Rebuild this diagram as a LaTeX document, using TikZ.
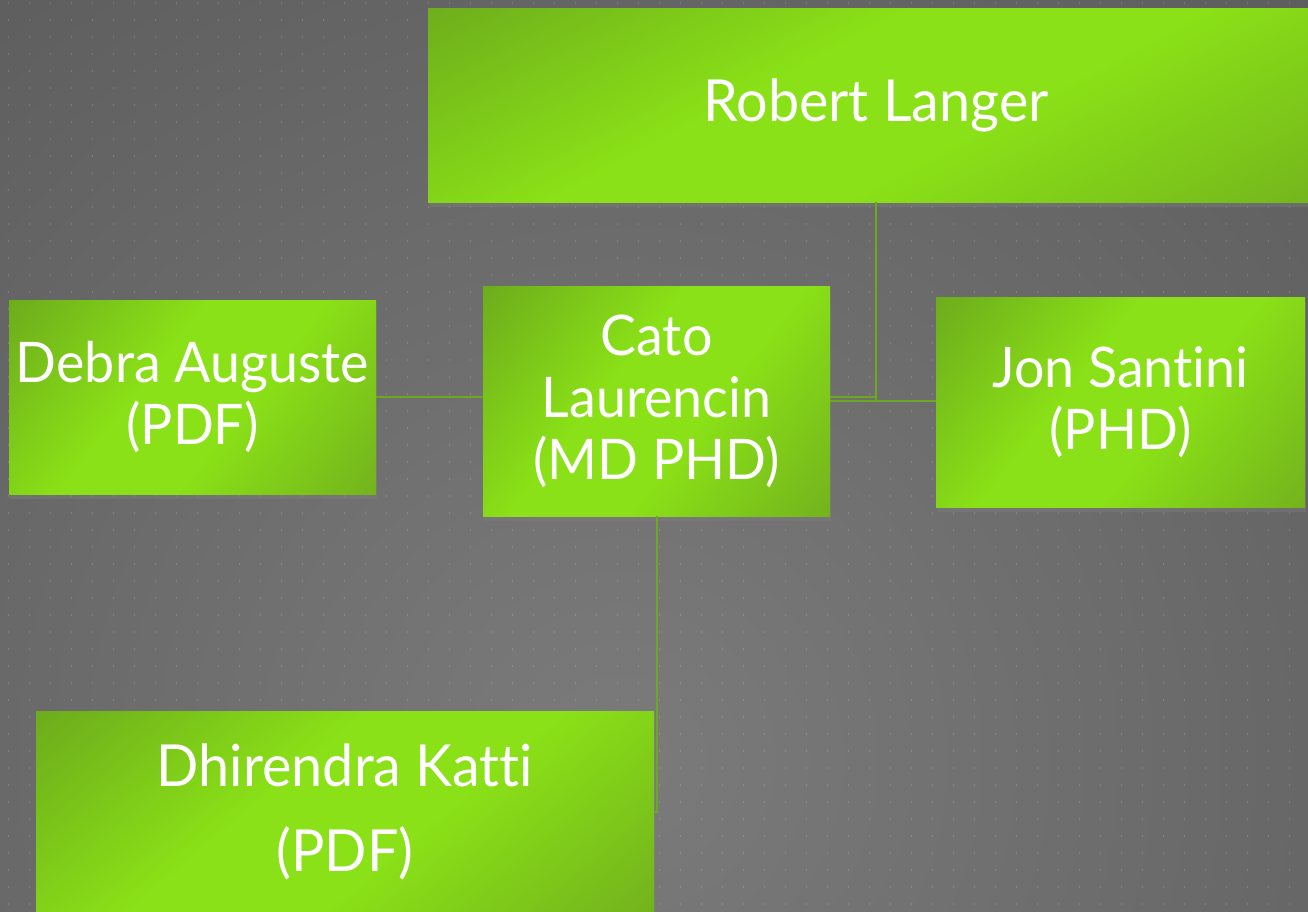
\documentclass[tikz,border=0pt]{standalone}
\usepackage{fontspec}
\setmainfont{Lato}[Ligatures={NoCommon}, FakeStretch=0.96]
\usetikzlibrary{shadows}
\definecolor{bgin}{HTML}{7B7B7B}
\definecolor{bgout}{HTML}{3B3B3B}
\definecolor{gdark}{HTML}{68A21D}
\definecolor{gbright}{HTML}{8AE117}
\definecolor{gdarktwo}{HTML}{6DA71E}
\definecolor{conn}{HTML}{6CA822}
\pgfdeclareradialshading{bgrad}{\pgfpoint{0bp}{0bp}}{color(0bp)=(bgin); color(50bp)=(bgout)}
\pgfdeclarehorizontalshading{greenband}{100bp}{color(0bp)=(gdark); color(10bp)=(gdark); color(42bp)=(gbright); color(58bp)=(gbright); color(92bp)=(gdarktwo); color(100bp)=(gdarktwo)}
\begin{document}
\begin{tikzpicture}[x=1pt,y=-1pt,
  person/.style={rectangle, inner sep=0pt, text=white, align=center,
    font=\fontsize{56}{62}\selectfont,
    shading=greenband, shading angle=-38,
    drop shadow={shadow xshift=1pt, shadow yshift=-5pt, opacity=0.38}},
  link/.style={draw=conn, line width=2.5pt},
  dotc/.style={fill=white, fill opacity=0.15}]
\useasboundingbox (0,0) rectangle (1308,912);
\begin{scope}
  \clip (0,0) rectangle (1308,912);
  \fill[bgout] (0,0) rectangle (1308,912);
  \shade[shading=bgrad] (620,760) circle (1100pt);
  \foreach \i in {0,...,62}{
    \foreach \j in {0,...,53}{
      \fill[dotc] (8+21*\i, 2.3+17*\j) rectangle +(1.4,2);
    }
  }
\end{scope}
\node[person, shading angle=-62, minimum width=896pt, minimum height=193pt, font=\fontsize{58}{62}\selectfont] (langer) at (876,105.5) {Robert Langer};
\node[person, minimum width=367pt, minimum height=194pt] (debra) at (192.5,397) {Debra Auguste\\(PDF)};
\node[person, minimum width=347pt, minimum height=230pt] (cato) at (656.5,401) {Cato\\Laurencin\\(MD PHD)};
\node[person, minimum width=369pt, minimum height=210pt] (jon) at (1120.5,402) {Jon Santini\\(PHD)};
\node[person, shading angle=-50, minimum width=618pt, minimum height=202pt, font=\fontsize{58}{85}\selectfont] (katti) at (345,812) {Dhirendra Katti\\(PDF)};
\draw[link] (langer.south) |- ([yshift=4pt]cato.east);
\draw[link] (langer.south) |- (jon.west |- cato.east);
\draw[link] (cato.east) -- (jon.west |- cato.east);
\draw[link] (debra.east) -- (cato.west |- debra.east);
\draw[link] ([xshift=0.5pt]cato.south) |- (katti.east);
\end{tikzpicture}
\end{document}
